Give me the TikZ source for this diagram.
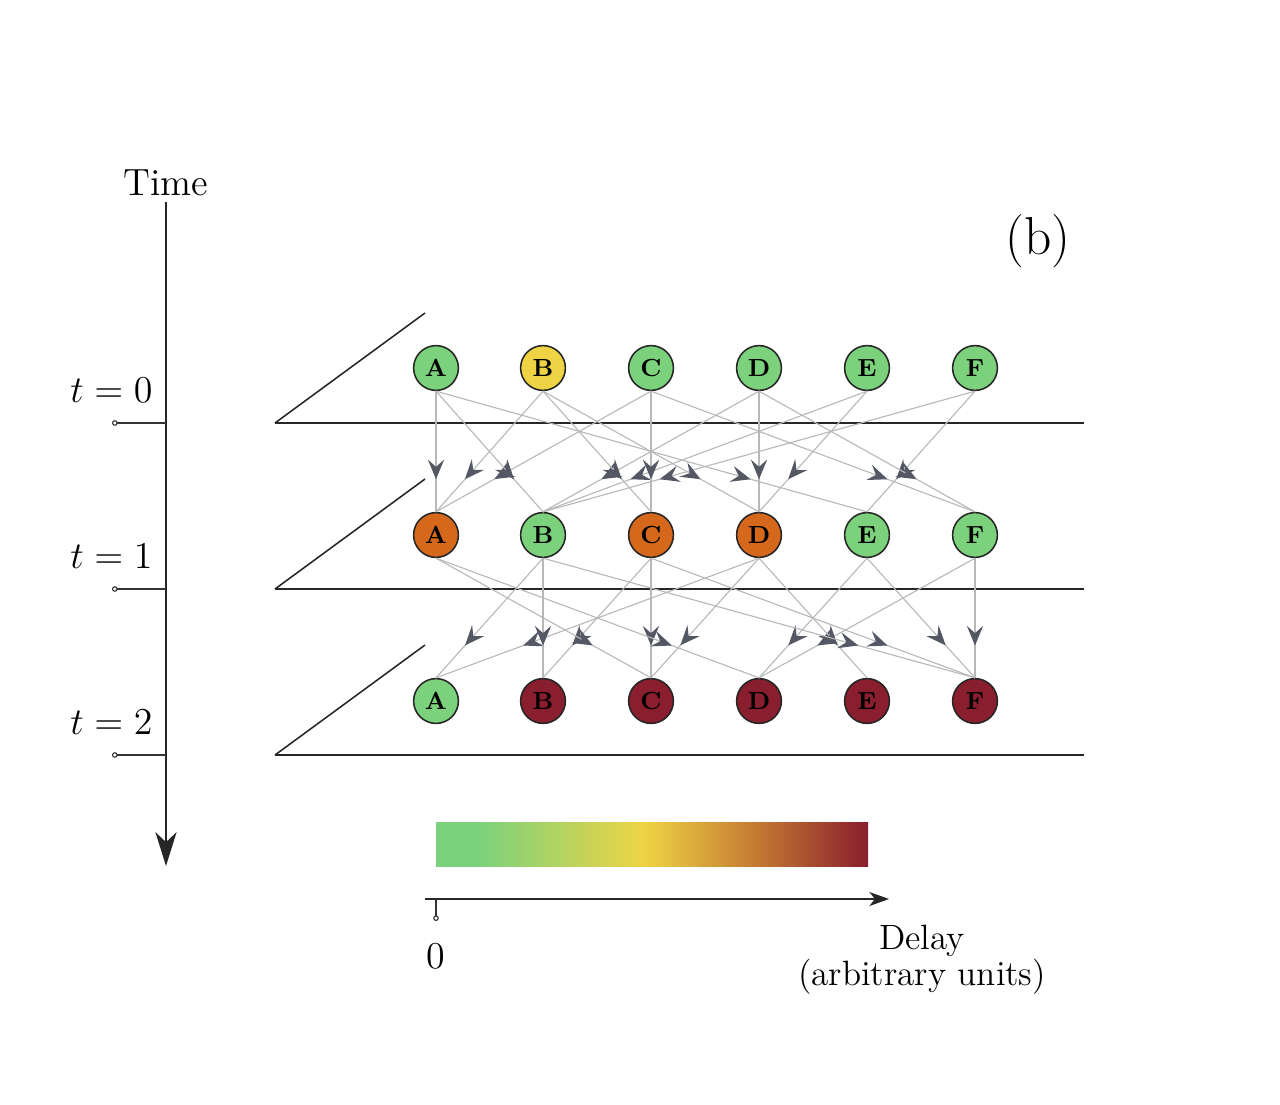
\RequirePackage{fix-cm}
\documentclass[tikz,border=0pt]{standalone}
\usetikzlibrary{arrows.meta,decorations.markings}

\definecolor{dgreen}{RGB}{124,210,124}
\definecolor{dyellow}{RGB}{238,212,68}
\definecolor{dorange}{RGB}{214,104,28}
\definecolor{dbrown}{RGB}{196,122,50}
\definecolor{dred}{RGB}{137,30,46}
\definecolor{tipgray}{RGB}{84,88,100}
\definecolor{edgegray}{RGB}{184,184,184}

\pgfdeclarehorizontalshading{delaybar}{100bp}{color(0bp)=(dgreen); color(25bp)=(dgreen);
  color(30bp)=(dgreen); color(49bp)=(dyellow); color(62bp)=(dbrown); color(75bp)=(dred); color(100bp)=(dred)}

\tikzset{
  host/.style={circle, draw=black!85, line width=0.55pt, minimum size=5.6mm,
    inner sep=0pt, font=\fontsize{8.8}{9}\selectfont\bfseries},
  ok/.style={host, fill=dgreen},
  mild/.style={host, fill=dyellow},
  late/.style={host, fill=dorange},
  worst/.style={host, fill=dred},
  flow/.style={draw=edgegray, line width=0.4pt, postaction={decorate},
    decoration={markings, mark=at position 0.73 with
      {\arrow[tipgray]{Stealth[length=7pt,width=5.8pt,inset=2.6pt]}}}},
  plane/.style={draw=black!85, line width=0.55pt},
  tick/.style={draw=black!80, line width=0.4pt, -{Circle[open,length=2pt]}},
  lbl/.style={font=\fontsize{13.5}{15}\selectfont},
}

\begin{document}
\begin{tikzpicture}[x=0.125mm, y=-0.125mm]
  \useasboundingbox (0,0) rectangle (1280,1104);

  % time axis
  \coordinate (ttop) at (166,202);
  \coordinate (tbot) at (166,866);
  \draw [line width=0.6pt, black!85, -{Stealth[length=12pt,width=7.5pt,inset=3.5pt]}] (ttop) -- (tbot);
  \node (timelbl) [above, inner sep=2pt, font=\fontsize{13.5}{15}\selectfont] at (ttop) {Time};

  % layers: tick, label, plane
  \foreach \t/\y in {0/423, 1/589, 2/755} {
    \draw [tick] (166,\y) -- (112,\y);
    \node [lbl, anchor=east, inner sep=0pt] at (153,\y-33) {$t=\t$};
    \draw [plane] (275,\y) -- (1084,\y);
    \draw [plane] (275,\y) -- (425,\y-110);
  }

  \node (panel) [font=\fontsize{19}{21}\selectfont] at (1038,241) {(b)};

  % t = 0
  \node [ok]   (A0) at (436,368) {A};
  \node [mild] (B0) at (543,368) {B};
  \node [ok]   (C0) at (651,368) {C};
  \node [ok]   (D0) at (759,368) {D};
  \node [ok]   (E0) at (867,368) {E};
  \node [ok]   (F0) at (975,368) {F};
  % t = 1
  \node [late] (A1) at (436,535) {A};
  \node [ok]   (B1) at (543,535) {B};
  \node [late] (C1) at (651,535) {C};
  \node [late] (D1) at (759,535) {D};
  \node [ok]   (E1) at (867,535) {E};
  \node [ok]   (F1) at (975,535) {F};
  % t = 2
  \node [ok]    (A2) at (436,701) {A};
  \node [worst] (B2) at (543,701) {B};
  \node [worst] (C2) at (651,701) {C};
  \node [worst] (D2) at (759,701) {D};
  \node [worst] (E2) at (867,701) {E};
  \node [worst] (F2) at (975,701) {F};

  % links t=0 -> t=1
  \foreach \s/\d in {A/A, B/A, C/A, A/B, D/B, E/B, F/B, B/C, C/C,
                     B/D, D/D, E/D, A/E, F/E, C/F, D/F}
    \draw [flow] (\s0.south) -- (\d1.north);
  % links t=1 -> t=2
  \foreach \s/\d in {B/A, D/A, B/B, C/B, A/C, C/C, D/C, A/D, E/D, F/D,
                     D/E, B/F, C/F, E/F, F/F}
    \draw [flow] (\s1.south) -- (\d2.north);

  % delay scale
  \shade [shading=delaybar] (436,822) rectangle (868,866);
  \draw [line width=0.5pt, black!85, -{Stealth[length=7pt,width=5pt,inset=2pt]}] (425,899) -- (889,899);
  \draw [tick] (436,899) -- (436,921);
  \node (zero) [font=\fontsize{13.5}{15}\selectfont] at (436,956) {0};
  \node (delay) [align=center, font=\fontsize{12.5}{11.5}\selectfont] at (922,960)
    {Delay\\(arbitrary units)};
\end{tikzpicture}
\end{document}
